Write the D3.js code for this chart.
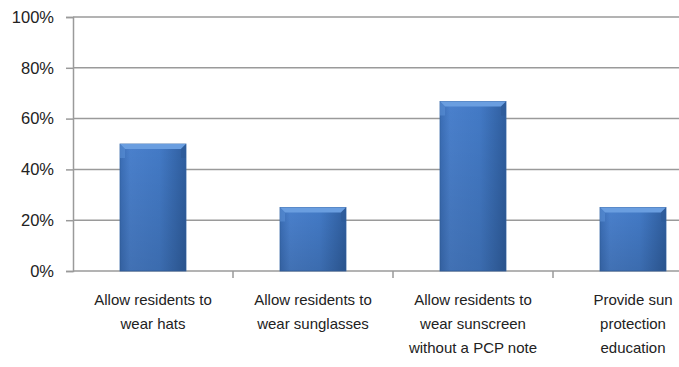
<!DOCTYPE html>
<html>
<head>
<meta charset="utf-8">
<script src="https://cdn.jsdelivr.net/npm/d3@7"></script>
<style>
  body { margin: 0; background: #fff; overflow: hidden; }
  text { font-family: "Liberation Sans", Arial, sans-serif; fill: #222; }
</style>
</head>
<body>
<div id="chart"></div>
<script>
// data
var categories = [
  ["Allow residents to", "wear hats"],
  ["Allow residents to", "wear sunglasses"],
  ["Allow residents to", "wear sunscreen", "without a PCP note"],
  ["Provide sun", "protection", "education"]
];
var values = [0.50, 0.25, 0.667, 0.25];
var yTicks = [0, 0.2, 0.4, 0.6, 0.8, 1.0];

// Set Margins (plot runs past the right edge, like the original crop)
var margin = {top: 17, left: 73},
    width = 640,
    height = 254;

var svg = d3.select("#chart")
  .append("svg")
    .attr("width", 679)
    .attr("height", 367);

var defs = svg.append("defs");
var grad = defs.append("linearGradient")
    .attr("id", "barGrad")
    .attr("x1", 0).attr("x2", 1).attr("y1", 0).attr("y2", 0);
grad.append("stop").attr("offset", "0%").attr("stop-color", "#3a6db5");
grad.append("stop").attr("offset", "15%").attr("stop-color", "#4a80cc");
grad.append("stop").attr("offset", "60%").attr("stop-color", "#437ac6");
grad.append("stop").attr("offset", "100%").attr("stop-color", "#2f5e9f");

var vgrad = defs.append("linearGradient")
    .attr("id", "barShade")
    .attr("x1", 0).attr("x2", 0).attr("y1", 0).attr("y2", 1);
vgrad.append("stop").attr("offset", "0%").attr("stop-color", "#000").attr("stop-opacity", 0);
vgrad.append("stop").attr("offset", "100%").attr("stop-color", "#000").attr("stop-opacity", 0.12);

var g = svg.append("g")
  .attr("transform", "translate(" + margin.left + "," + margin.top + ")");

var x = d3.scaleBand().domain(d3.range(categories.length)).range([0, width]);
var y = d3.scaleLinear().domain([0, 1]).range([height, 0]);

// gridlines
g.selectAll(".grid")
  .data(yTicks)
  .enter().append("line")
    .attr("x1", 0).attr("x2", width)
    .attr("y1", function(d) { return y(d); })
    .attr("y2", function(d) { return y(d); })
    .attr("stroke", "#9a9a9a")
    .attr("stroke-width", 1.5);

// y axis
var yAxis = g.append("g")
  .call(d3.axisLeft(y).tickValues(yTicks).tickSize(7).tickPadding(12)
    .tickFormat(function(d) { return Math.round(d * 100) + "%"; }));
yAxis.select(".domain").attr("stroke", "#9a9a9a").attr("stroke-width", 1.5);
yAxis.selectAll(".tick line").attr("stroke", "#9a9a9a").attr("stroke-width", 1.5);
yAxis.selectAll("text")
  .style("font-size", "16.5px")
  .style("font-family", "'Liberation Sans', Arial, sans-serif")
  .attr("fill", "#222");

// category tick marks between bands
g.selectAll(".ctick")
  .data(d3.range(1, categories.length))
  .enter().append("line")
    .attr("x1", function(i) { return x(i); })
    .attr("x2", function(i) { return x(i); })
    .attr("y1", height).attr("y2", height + 7)
    .attr("stroke", "#9a9a9a")
    .attr("stroke-width", 1.5);

// bars
var barW = 66;
var bars = g.selectAll(".bar")
  .data(values)
  .enter().append("g")
    .attr("transform", function(d, i) {
      return "translate(" + (x(i) + x.bandwidth() / 2 - barW / 2) + "," + y(d) + ")";
    });

bars.append("rect")
  .attr("width", barW)
  .attr("height", function(d) { return height - y(d); })
  .attr("fill", "url(#barGrad)")
  .attr("stroke", "#3565a6")
  .attr("stroke-width", 0.8);

bars.append("rect")
  .attr("width", barW)
  .attr("height", function(d) { return height - y(d); })
  .attr("fill", "url(#barShade)");

// top bevel
var bev = 5;
bars.append("path")
  .attr("d", "M0,0 L" + barW + ",0 L" + (barW - bev) + "," + bev + " L" + bev + "," + bev + " Z")
  .attr("fill", "#6a9ee0");
bars.append("path")
  .attr("d", "M0,0 L" + bev + "," + bev + " L" + bev + ",14 L0,14 Z")
  .attr("fill", "#5a8fd6").attr("opacity", 0.6);
bars.append("path")
  .attr("d", "M" + barW + ",0 L" + (barW - bev) + "," + bev + " L" + (barW - bev) + ",14 L" + barW + ",14 Z")
  .attr("fill", "#2d5a98").attr("opacity", 0.6);

// category labels
var labels = g.selectAll(".clabel")
  .data(categories)
  .enter().append("text")
    .attr("text-anchor", "middle")
    .attr("x", function(d, i) { return x(i) + x.bandwidth() / 2; })
    .attr("y", height + 34)
    .style("font-size", "15px");

labels.selectAll("tspan")
  .data(function(d) { return d; })
  .enter().append("tspan")
    .attr("x", function() { return d3.select(this.parentNode).attr("x"); })
    .attr("dy", function(d, i) { return i === 0 ? 0 : 24; })
    .text(function(d) { return d; });
</script>
</body>
</html>
